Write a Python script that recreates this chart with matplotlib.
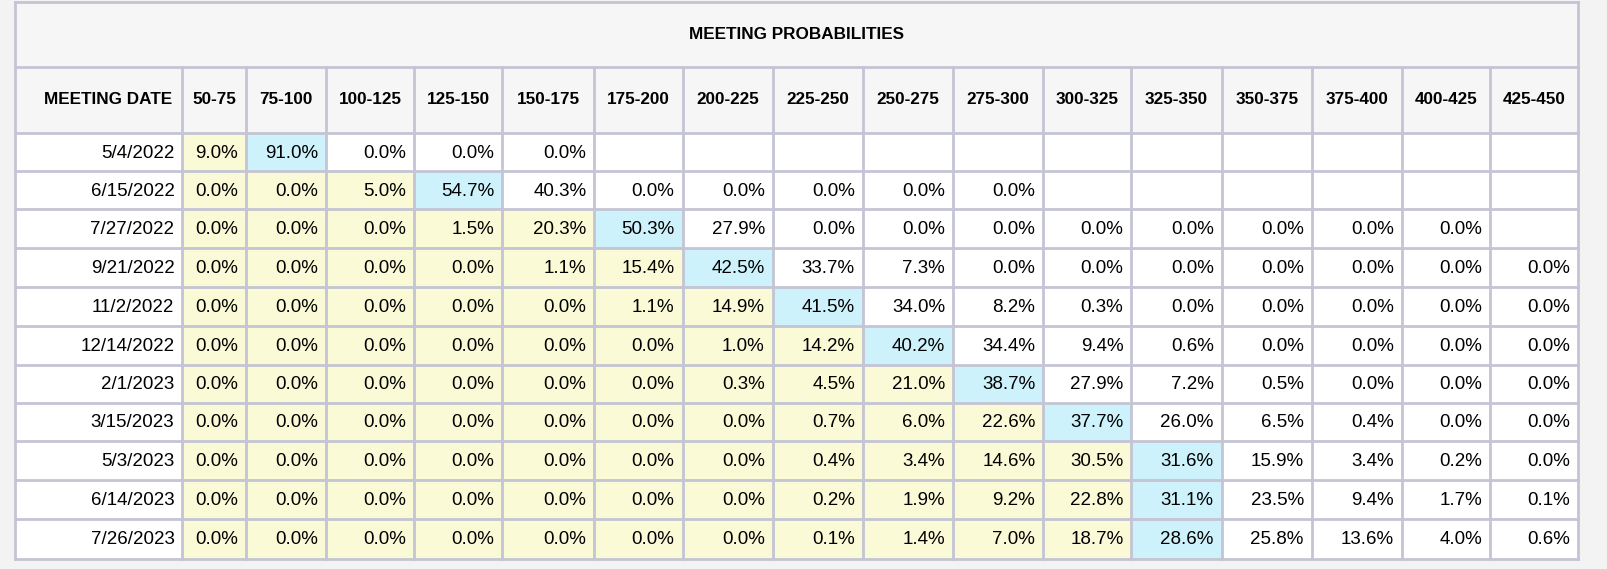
import matplotlib
matplotlib.use("Agg")
import matplotlib.pyplot as plt
from matplotlib.patches import Rectangle

title = "MEETING PROBABILITIES"
buckets = ["50-75","75-100","100-125","125-150","150-175","175-200","200-225","225-250",
           "250-275","275-300","300-325","325-350","350-375","375-400","400-425","425-450"]
dates = ["5/4/2022","6/15/2022","7/27/2022","9/21/2022","11/2/2022","12/14/2022",
         "2/1/2023","3/15/2023","5/3/2023","6/14/2023","7/26/2023"]
N = None
r1 = [9.0,91.0,0.0,0.0,0.0]+[N]*11
r2 = [0.0,0.0,5.0,54.7,40.3,0.0,0.0,0.0,0.0,0.0]+[N]*6
r3 = [0.0,0.0,0.0,1.5,20.3,50.3,27.9,0.0,0.0,0.0,0.0,0.0,0.0,0.0,0.0,N]
r4 = [0.0,0.0,0.0,0.0,1.1,15.4,42.5,33.7,7.3,0.0,0.0,0.0,0.0,0.0,0.0,0.0]
r5 = [0.0,0.0,0.0,0.0,0.0,1.1,14.9,41.5,34.0,8.2,0.3,0.0,0.0,0.0,0.0,0.0]
r6 = [0.0,0.0,0.0,0.0,0.0,0.0,1.0,14.2,40.2,34.4,9.4,0.6,0.0,0.0,0.0,0.0]
r7 = [0.0,0.0,0.0,0.0,0.0,0.0,0.3,4.5,21.0,38.7,27.9,7.2,0.5,0.0,0.0,0.0]
r8 = [0.0,0.0,0.0,0.0,0.0,0.0,0.0,0.7,6.0,22.6,37.7,26.0,6.5,0.4,0.0,0.0]
r9 = [0.0,0.0,0.0,0.0,0.0,0.0,0.0,0.4,3.4,14.6,30.5,31.6,15.9,3.4,0.2,0.0]
r10 = [0.0,0.0,0.0,0.0,0.0,0.0,0.0,0.2,1.9,9.2,22.8,31.1,23.5,9.4,1.7,0.1]
r11 = [0.0,0.0,0.0,0.0,0.0,0.0,0.0,0.1,1.4,7.0,18.7,28.6,25.8,13.6,4.0,0.6]
rows = [r1,r2,r3,r4,r5,r6,r7,r8,r9,r10,r11]

W, H = 1607, 569
fig = plt.figure(figsize=(W/100, H/100), dpi=100)
fig.patch.set_facecolor("#f3f3f3")
ax = fig.add_axes([0, 0, 1, 1])
ax.set_xlim(0, W); ax.set_ylim(H, 0); ax.axis("off")
plt.rcParams["font.family"] = ["Liberation Sans", "DejaVu Sans"]

s = 1607/1568
col_edges = [e*s for e in [15,178,240,318,404,490,580,666,754,842,930,1018,1104,1192,1280,1368,1454,1540]]
row_edges = [e*s for e in [130,167,204,242,280,318,356,393,430,468,506,545]]
top, hdr = 2*s, 65*s
grid = "#c4c4d4"; yellow = "#fafad6"; blue = "#cdf2fb"; hdrbg = "#f6f6f6"
fs, hfs = 13.5, 12.3

L, R = col_edges[0], col_edges[-1]
ax.add_patch(Rectangle((L, top), R-L, row_edges[-1]-top, fc="white", ec="none"))
ax.add_patch(Rectangle((L, top), R-L, row_edges[0]-top, fc=hdrbg, ec="none"))
ax.text((L+R)/2, (top+hdr)/2, title, ha="center", va="center", fontsize=hfs, fontweight="bold")

ax.text(col_edges[1]-10, (hdr+row_edges[0])/2, "MEETING DATE", ha="right", va="center", fontsize=hfs, fontweight="bold")
for j, b in enumerate(buckets):
    ax.text((col_edges[j+1]+col_edges[j+2])/2, (hdr+row_edges[0])/2, b, ha="center", va="center",
            fontsize=hfs, fontweight="bold")

for i, (d, vals) in enumerate(zip(dates, rows)):
    y0, y1 = row_edges[i], row_edges[i+1]
    ym = (y0+y1)/2 + 1
    ax.text(col_edges[1]-8, ym, d, ha="right", va="center", fontsize=fs)
    present = [v for v in vals if v is not None]
    jmax = vals.index(max(present))
    for j, v in enumerate(vals):
        x0, x1 = col_edges[j+1], col_edges[j+2]
        if v is None:
            continue
        c = yellow if j < jmax else (blue if j == jmax else None)
        if c:
            ax.add_patch(Rectangle((x0, y0), x1-x0, y1-y0, fc=c, ec="none"))
        ax.text(x1-8, ym, f"{v:.1f}%", ha="right", va="center", fontsize=fs)

for x in col_edges:
    ax.plot([x, x], [hdr if x not in (L, R) else top, row_edges[-1]], color=grid, lw=2)
for y in [top, hdr] + row_edges:
    ax.plot([L, R], [y, y], color=grid, lw=2)

fig.savefig("out.png", dpi=100, facecolor=fig.get_facecolor())
